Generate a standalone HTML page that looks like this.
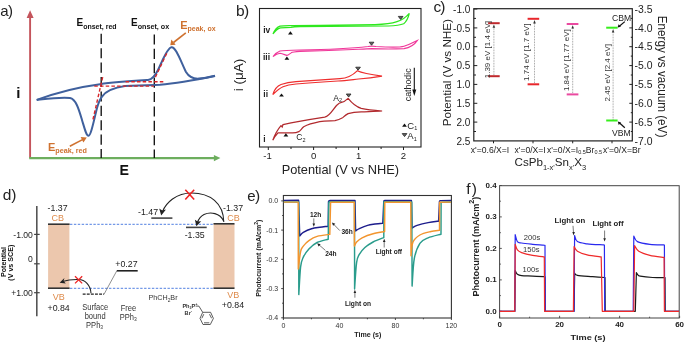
<!DOCTYPE html>
<html><head><meta charset="utf-8">
<style>
html,body{margin:0;padding:0;background:#fff;}
body{width:685px;height:344px;overflow:hidden;}
svg{display:block;filter:blur(0.3px);font-family:"Liberation Sans",sans-serif;}
</style></head>
<body>
<svg width="685" height="344" viewBox="0 0 685 344">
<rect width="685" height="344" fill="#fff"/>
<!-- ================= PANEL A ================= -->
<g id="pa">
<text x="0.2" y="16.1" font-size="15" fill="#222">a</text><text x="7.9" y="16.1" font-size="15" fill="#222">)</text>
<!-- axes -->
<line x1="30.1" y1="158" x2="30.1" y2="17" stroke="#c4545c" stroke-width="1.9"/>
<path d="M30.1 10.3 L26.6 18 L33.6 18 Z" fill="#c4545c"/>
<line x1="29.2" y1="158.1" x2="214" y2="158.1" stroke="#6dae5e" stroke-width="2.1"/>
<path d="M220.4 158.1 L213.9 154.9 L213.9 161.3 Z" fill="#6dae5e"/>
<text x="16.2" y="98" font-size="15" font-weight="bold" fill="#111">i</text>
<text x="119.6" y="174.9" font-size="14.2" font-weight="bold" fill="#111">E</text>
<!-- dashed verticals -->
<line x1="101.2" y1="33.8" x2="101.2" y2="158" stroke="#111" stroke-width="1.35" stroke-dasharray="10.1,4.3"/>
<line x1="154.3" y1="34.4" x2="154.3" y2="158" stroke="#111" stroke-width="1.35" stroke-dasharray="10.1,4.3"/>
<!-- labels -->
<text x="76.5" y="26.3" font-size="10" font-weight="bold" fill="#111">E<tspan font-size="7" dy="2.2">onset, red</tspan></text>
<text x="131" y="26.3" font-size="10" font-weight="bold" fill="#111">E<tspan font-size="7.2" dy="2.2">onset, ox</tspan></text>
<text x="180.2" y="29.2" font-size="11" font-weight="bold" fill="#cf7230">E<tspan font-size="7" dy="1.8">peak, ox</tspan></text>
<text x="48" y="150.7" font-size="11" font-weight="bold" fill="#cf7230">E<tspan font-size="7.2" dy="2">peak, red</tspan></text>
<!-- orange arrows -->
<line x1="185.8" y1="32.8" x2="173.5" y2="42.5" stroke="#cf7230" stroke-width="1.6"/>
<path d="M170.3 45.2 L171.3 39.6 L175.7 44.7 Z" fill="#cf7230"/>
<line x1="69.8" y1="146.3" x2="83" y2="139.4" stroke="#cf7230" stroke-width="1.6"/>
<path d="M86.8 137.4 L80.6 137.1 L83.4 142.6 Z" fill="#cf7230"/>
<!-- CV curve -->
<path d="M36.7 99.9 C 50 95, 75 87.5, 100 84.2 C 115 82, 140 80.5, 148 80 C 152 79.5, 155 76, 158 70 C 162 62, 167 48, 171.4 47.3 C 176 46.5, 181 62, 186 72 C 189 77, 193 79, 199 78.6 C 205 78.2, 210 77, 215 75.8" fill="none" stroke="#3f609d" stroke-width="2"/>
<path d="M36.7 99.9 C 45 99, 60 97, 70 98 C 76 99, 79 110, 82 120 C 85 130, 86.5 136, 88.5 135.8 C 91 135.5, 94 120, 97 108 C 99 101, 100.5 98.5, 102 96.6 C 106 91, 112 88, 125 86.1 C 140 85, 150 85, 160 84.8 C 180 83, 200 79, 215 76" fill="none" stroke="#3f609d" stroke-width="2"/>
<!-- red dashed tangents -->
<line x1="102.7" y1="77.1" x2="92.6" y2="121" stroke="#d8262a" stroke-width="1.4" stroke-dasharray="3.5,2.2"/>
<line x1="94.3" y1="86.1" x2="153.8" y2="86.1" stroke="#d8262a" stroke-width="1.4" stroke-dasharray="3.5,2.2"/>
<line x1="125.6" y1="81.8" x2="164.2" y2="81.8" stroke="#d8262a" stroke-width="1.4" stroke-dasharray="3.5,2.2"/>
<line x1="166.7" y1="53.4" x2="154.5" y2="79" stroke="#d8262a" stroke-width="1.4" stroke-dasharray="3.5,2.2"/>
</g>
<!-- ================= PANEL B ================= -->
<g id="pb">
<text x="235.9" y="15.7" font-size="15.5" fill="#222">b</text><text x="243.9" y="15.7" font-size="15.5" fill="#222">)</text>
<rect x="259.5" y="8.5" width="161.5" height="138.5" fill="none" stroke="#222" stroke-width="1.1"/>
<!-- x ticks -->
<g stroke="#222" stroke-width="1">
<line x1="268.3" y1="147" x2="268.3" y2="150"/><line x1="291" y1="147" x2="291" y2="149"/>
<line x1="313.6" y1="147" x2="313.6" y2="150"/><line x1="336.1" y1="147" x2="336.1" y2="149"/>
<line x1="358.6" y1="147" x2="358.6" y2="150"/><line x1="381.1" y1="147" x2="381.1" y2="149"/>
<line x1="403.5" y1="147" x2="403.5" y2="150"/>
</g>
<g font-size="9.6" fill="#222" text-anchor="middle">
<text x="267.6" y="158.8">-1</text><text x="313.6" y="158.8">0</text><text x="358.6" y="158.8">1</text><text x="403.5" y="158.8">2</text>
</g>
<text x="340.3" y="174.1" font-size="12.8" fill="#222" text-anchor="middle">Potential (V vs NHE)</text>
<text transform="translate(243,75) rotate(-90)" font-size="13.5" fill="#222" text-anchor="middle">i (μA)</text>
<!-- curve labels -->
<g font-size="8.5" font-weight="bold" fill="#222">
<text x="263.2" y="33.3">iv</text><text x="263" y="59.5">iii</text><text x="263.3" y="96.6">ii</text><text x="263.3" y="141.5">i</text>
</g>
<!-- iv green -->
<g fill="none" stroke="#2ee81e" stroke-width="1.25">
<path d="M273 34 C 274.5 30.5, 276.5 27.4, 280 26.2 C 284 25.6, 288 25.7, 292 25.6 C 320 25.3, 355 25, 375 24.6 C 385 24.3, 392 23.3, 397 21.6 C 402 19.9, 406 17.3, 409.3 13.3 C 408.2 18, 406.3 21.5, 403.7 23.8 C 400 25.4, 395 25.8, 388 26 C 360 26.4, 330 26.5, 300 26.7 C 295 26.8, 293 27, 291 27.4 C 287 27.6, 283 27.6, 280.5 27.8 C 277.5 28.5, 275 31, 273 34"/>
</g>
<!-- iii magenta -->
<g fill="none" stroke="#f0389a" stroke-width="1.15">
<path d="M273 56.6 C 275 54, 277 52, 280 51 C 283 50.4, 290 50.2, 300 50 C 330 49.5, 355 48, 368 46.5 C 371 45.8, 373 46, 376 46.5 C 390 47.4, 400 47.4, 404 46.3 C 410 44.6, 414 42, 417.4 40.4 C 415 44, 411 47.6, 404 48.6 C 390 49.4, 380 49, 372 48.6 C 360 49, 340 50.5, 300 51.4 C 295 51.8, 292.5 52, 291.5 52.6 C 289.5 54, 288 55.4, 286.9 55.4 C 285 55, 283 53.6, 280 53.3 C 277 53.5, 275 55, 273 56.6"/>
</g>
<!-- ii red -->
<g fill="none" stroke="#ee2e2e" stroke-width="1.2">
<path d="M272.8 94.6 C 274.5 89, 277 86, 281 84.5 C 286 82.8, 291 82, 296 81.6 C 310 80.6, 325 79.6, 340 78.6 C 346 78.2, 352 76, 357.2 70.8 C 362 73, 370 74.5, 382 76.2 C 375 77.5, 366 78.6, 358.5 79 C 350 80, 345 80.8, 338 81 C 322 82, 308 83, 296 84 C 290 84.6, 286 85.6, 283 86.8 C 279.5 88.3, 276.5 91, 272.8 94.6"/>
</g>
<!-- i dark red -->
<g fill="none" stroke="#b22a2e" stroke-width="1.25">
<path d="M272.8 140.3 C 275 134, 278.5 128.5, 281 125.6 L 282.2 127 L 283 124.6 C 295 122, 310 119.5, 324.7 117.2 C 330 116, 332.5 110, 336.5 105.5 C 338.5 103.5, 340 102.6, 341.5 102.4 C 343.5 102, 346 100.5, 348.1 98.4 C 351 102, 355 106.5, 361.2 108.4 C 368 110, 375 110.5, 382.1 111 C 375 111.5, 368 111.5, 361.2 111.8 C 356 112, 352 112.5, 348.1 113.6 C 345 115.3, 343.5 117, 342.5 117.8 C 340 119.3, 337 120.3, 335 120.7 C 330 121, 325 121, 319.7 121.7 C 312 123.3, 307 125, 303.7 126.7 C 301.5 128.5, 300.5 130.8, 298.8 131.6 C 297 132.5, 295 132.9, 292.6 132.9 L 278 132.9 C 276 135, 274 138, 272.8 140.3"/>
</g>
<!-- markers -->
<g fill="#111">
<path d="M290.4 31.2 L 288 34.4 L 292.8 34.4 Z"/>
<path d="M286.9 56.6 L 284.5 59.8 L 289.3 59.8 Z"/>
<path d="M281.5 93.4 L 279.1 96.6 L 283.9 96.6 Z"/>
<path d="M285.9 133.3 L 283.5 136.5 L 288.3 136.5 Z"/>
<path d="M404.5 123.6 L 402.1 126.8 L 406.9 126.8 Z"/>
</g>
<g fill="#666" stroke="#222" stroke-width="0.8">
<path d="M398.3 16.4 L 403 16.4 L 400.65 19.4 Z"/>
<path d="M369.2 42.2 L 373.9 42.2 L 371.55 45.2 Z"/>
<path d="M355.7 67.2 L 360.4 67.2 L 358.05 70.2 Z"/>
<path d="M346.3 94 L 351 94 L 348.65 97 Z"/>
<path d="M402.2 133.6 L 406.9 133.6 L 404.55 136.6 Z"/>
</g>
<g fill="#222">
<text x="333.3" y="100.5" font-size="8.5">A<tspan font-size="5.5" dy="1.8">2</tspan></text>
<text x="296.3" y="140.3" font-size="8.5">C<tspan font-size="5.5" dy="1.8">2</tspan></text>
<text x="407.3" y="128.6" font-size="9.5">C<tspan font-size="5.5" dy="1.8">1</tspan></text>
<text x="407.3" y="139.3" font-size="9.5">A<tspan font-size="5.5" dy="1.8">1</tspan></text>
<text transform="translate(410.6,84.8) rotate(-90)" font-size="8.8" text-anchor="middle">cathodic</text>
</g>
<line x1="414.3" y1="67.8" x2="414.3" y2="91" stroke="#111" stroke-width="1.1"/>
<path d="M414.3 96 L 412.3 89.5 L 416.3 89.5 Z" fill="#111"/>
</g>
<!-- ================= PANEL C ================= -->
<g id="pc">
<text x="433.4" y="11.9" font-size="15.5" fill="#222">c</text><text x="440.2" y="11.9" font-size="15.5" fill="#222">)</text>
<rect x="473.8" y="8.7" width="158.5" height="132.2" fill="none" stroke="#222" stroke-width="1.2"/>
<!-- left ticks -->
<g stroke="#222" stroke-width="1">
<line x1="473.8" y1="9" x2="477.3" y2="9"/><line x1="473.8" y1="18.4" x2="476" y2="18.4"/>
<line x1="473.8" y1="27.9" x2="477.3" y2="27.9"/><line x1="473.8" y1="37.3" x2="476" y2="37.3"/>
<line x1="473.8" y1="46.7" x2="477.3" y2="46.7"/><line x1="473.8" y1="56.1" x2="476" y2="56.1"/>
<line x1="473.8" y1="65.6" x2="477.3" y2="65.6"/><line x1="473.8" y1="75" x2="476" y2="75"/>
<line x1="473.8" y1="84.4" x2="477.3" y2="84.4"/><line x1="473.8" y1="93.8" x2="476" y2="93.8"/>
<line x1="473.8" y1="103.3" x2="477.3" y2="103.3"/><line x1="473.8" y1="112.7" x2="476" y2="112.7"/>
<line x1="473.8" y1="122.1" x2="477.3" y2="122.1"/><line x1="473.8" y1="131.5" x2="476" y2="131.5"/>
<!-- right ticks -->
<line x1="632.3" y1="18.4" x2="630.8" y2="18.4"/><line x1="632.3" y1="27.9" x2="629.3" y2="27.9"/>
<line x1="632.3" y1="37.3" x2="630.8" y2="37.3"/><line x1="632.3" y1="46.7" x2="629.3" y2="46.7"/>
<line x1="632.3" y1="56.1" x2="630.8" y2="56.1"/><line x1="632.3" y1="65.6" x2="629.3" y2="65.6"/>
<line x1="632.3" y1="75" x2="630.8" y2="75"/><line x1="632.3" y1="84.4" x2="629.3" y2="84.4"/>
<line x1="632.3" y1="93.8" x2="630.8" y2="93.8"/><line x1="632.3" y1="103.3" x2="629.3" y2="103.3"/>
<line x1="632.3" y1="112.7" x2="630.8" y2="112.7"/><line x1="632.3" y1="122.1" x2="629.3" y2="122.1"/>
<line x1="632.3" y1="131.5" x2="630.8" y2="131.5"/>
<!-- bottom ticks -->
<line x1="493.5" y1="140.9" x2="493.5" y2="143.3"/><line x1="533" y1="140.9" x2="533" y2="143.3"/>
<line x1="572.7" y1="140.9" x2="572.7" y2="143.3"/><line x1="612" y1="140.9" x2="612" y2="143.3"/>
</g>
<g font-size="10" fill="#222" text-anchor="end">
<text x="470.3" y="12.6">-1.0</text><text x="470.3" y="31.5">-0.5</text><text x="470.3" y="50.3">0.0</text>
<text x="470.3" y="69.2">0.5</text><text x="470.3" y="88">1.0</text><text x="470.3" y="106.9">1.5</text>
<text x="470.3" y="125.7">2.0</text><text x="470.3" y="144.5">2.5</text>
</g>
<g font-size="10.4" fill="#222">
<text x="634.6" y="12.6">-3.5</text><text x="634.6" y="31.5">-4.0</text><text x="634.6" y="50.3">-4.5</text>
<text x="634.6" y="69.2">-5.0</text><text x="634.6" y="88">-5.5</text><text x="634.6" y="106.9">-6.0</text>
<text x="634.6" y="125.7">-6.5</text><text x="634.6" y="144.5">-7.0</text>
</g>
<text transform="translate(451.4,72.6) rotate(-90)" font-size="11.7" fill="#222" text-anchor="middle">Potential (V vs NHE)</text>
<text transform="translate(657.9,76.5) rotate(90)" font-size="13.2" fill="#222" text-anchor="middle" textLength="121.6" lengthAdjust="spacingAndGlyphs">Energy vs vacuum (eV)</text>
<g font-size="8.6" fill="#222" text-anchor="middle">
<text x="490" y="152.6">x'=0.6/X=I</text>
<text x="530.1" y="152.6">x'=0/X=I</text>
<text x="574.5" y="152.6">x'=0/X=I<tspan font-size="5.5" dy="1.8">0.5</tspan><tspan dy="-1.8">Br</tspan><tspan font-size="5.5" dy="1.8">0.5</tspan></text>
<text x="621.8" y="152.6">x'=0/X=Br</text>
</g>
<text x="514.6" y="166.2" font-size="11.6" fill="#222">CsPb<tspan font-size="7.5" dy="3.5">1-x'</tspan><tspan dy="-3.5">Sn</tspan><tspan font-size="7.5" dy="3.5">x'</tspan><tspan dy="-3.5">X</tspan><tspan font-size="7.5" dy="3.5">3</tspan></text>
<!-- bars -->
<g stroke-width="2">
<line x1="488.1" y1="23.2" x2="499.7" y2="23.2" stroke="#c0282c"/>
<line x1="488.1" y1="76.2" x2="499.7" y2="76.2" stroke="#c0282c"/>
<line x1="527.6" y1="18.8" x2="539.2" y2="18.8" stroke="#e8262b"/>
<line x1="527.6" y1="84.3" x2="539.2" y2="84.3" stroke="#e8262b"/>
<line x1="566.7" y1="24" x2="578.4" y2="24" stroke="#ea4aa0"/>
<line x1="566.7" y1="94.4" x2="578.4" y2="94.4" stroke="#ea4aa0"/>
<line x1="606.2" y1="27.7" x2="617.6" y2="27.7" stroke="#36ee1c"/>
<line x1="606.2" y1="120.5" x2="617.6" y2="120.5" stroke="#36ee1c"/>
</g>
<g stroke="#555" stroke-width="0.6" stroke-dasharray="0.8,0.8">
<line x1="493.9" y1="75" x2="493.9" y2="27"/>
<line x1="534.5" y1="83" x2="534.5" y2="22.5"/>
<line x1="572.7" y1="93" x2="572.7" y2="27.5"/>
<line x1="613.1" y1="119.5" x2="613.1" y2="31.5"/>
</g>
<g fill="#333">
<path d="M493.9 24.4 L492.6 27.8 L495.2 27.8 Z"/>
<path d="M534.5 20 L533.2 23.4 L535.8 23.4 Z"/>
<path d="M572.7 25.2 L571.4 28.6 L574 28.6 Z"/>
<path d="M613.1 29 L611.8 32.4 L614.4 32.4 Z"/>
</g>
<g font-size="8" fill="#333">
<text transform="translate(489.6,49.6) rotate(-90)" text-anchor="middle">1.39 eV [1.4 eV]</text>
<text transform="translate(529.2,52.3) rotate(-90)" text-anchor="middle">1.74 eV [1.7 eV]</text>
<text transform="translate(569,60.2) rotate(-90)" text-anchor="middle">1.84 eV [1.77 eV]</text>
<text transform="translate(610.3,72.7) rotate(-90)" text-anchor="middle">2.45 eV [2.4 eV]</text>
</g>
<text x="612" y="20.6" font-size="8.6" fill="#222">CBM</text>
<text x="612" y="136" font-size="8.6" fill="#222">VBM</text>
<line x1="624.8" y1="21.6" x2="619.6" y2="26" stroke="#111" stroke-width="1.2"/>
<path d="M617.6 27.4 L618.6 24.3 L620.9 26.8 Z" fill="#111"/>
<line x1="624.8" y1="127.7" x2="619.6" y2="123" stroke="#111" stroke-width="1.2"/>
<path d="M617.8 121.5 L621 122.6 L618.7 125 Z" fill="#111"/>
</g>
<!-- ================= PANEL D ================= -->
<g id="pd">
<text x="2.8" y="200.1" font-size="15.5" fill="#222">d</text><text x="11.3" y="200.1" font-size="15.5" fill="#222">)</text>
<line x1="36.8" y1="205.9" x2="36.8" y2="316.3" stroke="#555" stroke-width="1.6"/>
<g stroke="#444" stroke-width="1.2">
<line x1="34.1" y1="234.4" x2="39.7" y2="234.4"/><line x1="34.1" y1="263.8" x2="39.7" y2="263.8"/><line x1="34.1" y1="292.7" x2="39.7" y2="292.7"/>
</g>
<g font-size="8.6" fill="#222" text-anchor="end">
<text x="32.9" y="237.6">-1.00</text><text x="32.9" y="262.1">0</text><text x="32.9" y="295.9">+1.00</text>
</g>
<g font-size="7" font-weight="bold" fill="#111" text-anchor="middle">
<text transform="translate(5.9,262) rotate(-90)" textLength="30" lengthAdjust="spacingAndGlyphs">Potential</text>
<text transform="translate(12.8,262.7) rotate(-90)" textLength="36" lengthAdjust="spacingAndGlyphs">(V vs SCE)</text>
</g>
<!-- boxes -->
<rect x="48.1" y="224.2" width="21.3" height="64" fill="#ecc7ad"/>
<rect x="213.6" y="223.8" width="20.9" height="64.5" fill="#ecc7ad"/>
<g stroke="#333" stroke-width="1.6">
<line x1="48" y1="224.2" x2="69.6" y2="224.2"/><line x1="48" y1="288.2" x2="69.6" y2="288.2"/>
<line x1="213.5" y1="223.8" x2="234.5" y2="223.8"/><line x1="213.5" y1="288.2" x2="234.5" y2="288.2"/>
<line x1="151.3" y1="218.1" x2="172.4" y2="218.1" stroke="#444"/>
<line x1="186" y1="227.4" x2="206.7" y2="227.4" stroke="#444"/>
<line x1="116.8" y1="270.8" x2="137.7" y2="270.8" stroke="#222"/>
</g>
<g stroke="#3d72de" stroke-width="0.9" stroke-dasharray="2.4,1.5">
<line x1="70" y1="224.3" x2="213.5" y2="224.3"/>
<line x1="70" y1="288.3" x2="213.5" y2="288.3"/>
</g>
<line x1="82.7" y1="294.1" x2="104.1" y2="294.1" stroke="#222" stroke-width="1.3" stroke-dasharray="2.9,1.2"/>
<line x1="104.1" y1="294.1" x2="116.8" y2="270.8" stroke="#444" stroke-width="0.6"/>
<g font-size="8.8" fill="#222">
<text x="47.6" y="210.8">-1.37</text>
<text x="223" y="210.6">-1.37</text>
<text x="138" y="214.5">-1.47</text>
<text x="184.7" y="237.7">-1.35</text>
<text x="115.3" y="267">+0.27</text>
<text x="47.5" y="310.7">+0.84</text>
<text x="221.8" y="308.1">+0.84</text>
</g>
<g font-size="9" fill="#de8a4a">
<text x="51.6" y="221.4">CB</text><text x="227.2" y="221.2">CB</text>
<text x="52.8" y="300.3">VB</text><text x="227.3" y="297.7">VB</text>
</g>
<g font-size="7.6" fill="#333" text-anchor="middle">
<text transform="translate(95.2,310.4) scale(0.92,1)" font-size="8.2">Surface</text><text transform="translate(95.1,319.1) scale(0.92,1)" font-size="8.2">bound</text><text transform="translate(94.6,327.6) scale(0.92,1)" font-size="8.2">PPh<tspan font-size="5.4" dy="1.5">3</tspan></text>
<text transform="translate(128.5,311) scale(0.92,1)" font-size="8.2">Free</text><text transform="translate(128.2,319.8) scale(0.92,1)" font-size="8.2">PPh<tspan font-size="5.4" dy="1.5">3</tspan></text>
<text transform="translate(163,300) scale(0.9,1)" font-size="8">PhCH<tspan font-size="5.4" dy="1.5">2</tspan><tspan dy="-1.5">Br</tspan></text>
</g>
<!-- arcs -->
<g fill="none" stroke="#222" stroke-width="1.1">
<path d="M223.8 222.1 C 223.5 203, 210 193, 191.6 193 C 176 193, 166 203, 162.6 211.5"/>
<path d="M223.6 221 C 220 213, 210.5 211.5, 204 214.5 C 200.5 216.3, 198.5 219.5, 197.4 222.5"/>
<path d="M91 293.2 C 90.5 285, 85 279.5, 78.6 279.5 C 72 279.3, 66.5 280.2, 62.5 281.5"/>
</g>
<g fill="#222">
<path d="M161.2 215.4 L 159.2 208.4 L 162.3 210.4 L 166 209.6 Z"/>
<path d="M196.4 226.2 L 194.9 219.8 L 197.6 221.4 L 201.2 221.2 Z"/>
<path d="M59.6 282.7 L 64.4 277.9 L 63.6 281 L 65.8 283.6 Z"/>
</g>
<g stroke="#ee2525" stroke-width="1.3" fill="none">
<path d="M185.3 189.7 L 194.2 199.5 M 194.2 189.7 L 185.3 199.5" stroke-width="1.6"/>
<path d="M75 276.3 L 82.2 283.4 M 82.2 276.3 L 75 283.4"/>
</g>
<!-- structure -->
<g fill="#333" font-weight="bold">
<text x="182.4" y="308.3" font-size="5.6">Ph<tspan font-size="3.6" dy="1">3</tspan><tspan dy="-1">P</tspan><tspan font-size="4" dy="-3">+</tspan></text>
<text x="184.6" y="315.2" font-size="5.6">Br<tspan font-size="4" dy="-3">-</tspan></text>
</g>
<g fill="none" stroke="#333" stroke-width="0.8">
<path d="M195.6 306.1 L 198.9 306.1 L 202.7 312.3"/>
<path d="M202.7 312.3 L 210.6 312.3 L 213.4 318.4 L 210.3 324.5 L 203 324.5 L 200 318.4 Z"/>
<path d="M203.8 314.2 L 201.8 318.3 M 209.5 314.2 L 211.6 318.3 M 204 322.8 L 209.3 322.8"/>
</g>
</g>
<!-- ================= PANEL E ================= -->
<g id="pe">
<text x="247.3" y="200.9" font-size="15" fill="#222">e</text><text x="254.9" y="200.9" font-size="15.5" fill="#222">)</text>
<rect x="283.4" y="195.5" width="168" height="122.5" fill="none" stroke="#333" stroke-width="1.1"/>
<g stroke="#333" stroke-width="0.9"><line x1="281.2" y1="200.9" x2="283.4" y2="200.9"/><line x1="282.1" y1="215.5" x2="283.4" y2="215.5"/><line x1="281.2" y1="230.1" x2="283.4" y2="230.1"/><line x1="282.1" y1="244.7" x2="283.4" y2="244.7"/><line x1="281.2" y1="259.3" x2="283.4" y2="259.3"/><line x1="282.1" y1="273.9" x2="283.4" y2="273.9"/><line x1="281.2" y1="288.6" x2="283.4" y2="288.6"/><line x1="282.1" y1="303.2" x2="283.4" y2="303.2"/><line x1="281.2" y1="317.8" x2="283.4" y2="317.8"/><line x1="283.4" y1="318" x2="283.4" y2="320.0"/><line x1="311.4" y1="318" x2="311.4" y2="319.3"/><line x1="339.4" y1="318" x2="339.4" y2="320.0"/><line x1="367.4" y1="318" x2="367.4" y2="319.3"/><line x1="395.4" y1="318" x2="395.4" y2="320.0"/><line x1="423.4" y1="318" x2="423.4" y2="319.3"/><line x1="451.4" y1="318" x2="451.4" y2="320.0"/></g>
<g font-size="7" fill="#333" text-anchor="end"><text x="278.2" y="203.4">0.0</text><text x="278.2" y="232.6">-0.1</text><text x="278.2" y="261.8">-0.2</text><text x="278.2" y="291.1">-0.3</text><text x="278.2" y="320.3">-0.4</text></g>
<g font-size="7" fill="#333" text-anchor="middle"><text x="283.4" y="328">0</text><text x="339.4" y="328">40</text><text x="395.4" y="328">80</text><text x="451.4" y="328">120</text></g>
<text x="367.8" y="337.2" font-size="7.1" font-weight="bold" fill="#222" text-anchor="middle">Time (s)</text>
<text transform="translate(260.8,258.2) rotate(-90)" font-size="7.05" font-weight="bold" fill="#222" text-anchor="middle">Photocurrent (mA/cm<tspan font-size="5" dy="-2.5">2</tspan><tspan dy="2.5">)</tspan></text>
<g fill="none" stroke-width="1.45" stroke-linejoin="round"><path d="M 283.8 200.4 L 298.6 200.3 L 299.7 235.9 C 300.3 235.3, 301.3 233.5, 303.3 232.3 C 305.3 231.1, 308.8 229.5, 311.6 228.7 C 314.4 227.9, 317.1 227.7, 319.9 227.3 C 322.7 226.9, 326.8 226.4, 328.2 226.2 L 328.5 201.6 Q 328.7 200.5 330 200.5 L 355 200.4 L 355.6 230.9 C 356.2 230.5, 357.3 229.6, 359.3 228.7 C 361.3 227.8, 365.0 226.2, 367.6 225.4 C 370.2 224.6, 372.5 224.4, 375.0 224.0 C 377.5 223.6, 381.5 223.3, 382.8 223.2 L 383.8 201.3 Q 384 200.5 385 200.5 L 411.4 200.4 L 412 228.1 C 412.9 227.7, 414.4 226.3, 417.1 225.4 C 419.8 224.5, 424.5 223.3, 428.1 222.6 C 431.7 221.9, 436.9 221.4, 438.6 221.2 L 439.5 201.3 Q 439.7 200.6 440.5 200.6 L 451 200.5" stroke="#1d1d8c"/><path d="M 283.8 202 L 298.7 202 L 298.8 294.6 C 299.1 290.0, 299.9 273.1, 300.6 266.8 C 301.4 260.6, 301.9 260.1, 303.3 257.1 C 304.7 254.1, 306.6 251.3, 308.9 248.9 C 311.2 246.5, 313.9 244.1, 317.1 242.5 C 320.3 240.9, 326.4 239.8, 328.2 239.2 L 328.8 202.6 Q 329 201.8 330 201.8 L 354.5 202 L 354.6 288.9 C 354.9 284.5, 355.8 268.4, 356.6 262.7 C 357.4 256.9, 357.9 256.9, 359.3 254.4 C 360.7 251.9, 362.6 249.6, 364.9 247.5 C 367.2 245.4, 370.0 243.7, 373.1 242.0 C 376.2 240.3, 382.0 238.3, 383.8 237.6 L 383.9 201.8 L 411.8 202 L 412.1 286.1 C 412.5 281.5, 413.0 265.6, 414.3 258.5 C 415.6 251.4, 417.6 246.8, 419.9 243.3 C 422.2 239.9, 424.6 239.3, 428.1 237.8 C 431.6 236.3, 438.9 234.8, 441.0 234.2 L 441.1 202.2 L 451 202" stroke="#2a9c8c"/><path d="M 283.8 202.1 L 298.2 202.1 L 298.3 269 C 298.7 266.1, 299.8 255.4, 300.6 251.6 C 301.4 247.8, 301.9 247.9, 303.3 246.1 C 304.7 244.3, 306.6 242.2, 308.9 240.6 C 311.2 239.0, 313.6 237.4, 317.1 236.4 C 320.6 235.4, 327.7 234.7, 329.8 234.4 L 330.6 202.3 L 354.3 202.3 L 354.4 246.1 C 354.8 245.4, 355.3 243.4, 356.6 242.0 C 357.9 240.6, 359.4 239.2, 362.1 237.8 C 364.9 236.4, 369.4 234.7, 373.1 233.7 C 376.9 232.7, 382.7 231.9, 384.6 231.6 L 384.8 202.3 L 410.8 202.3 L 411 255.8 C 411.3 253.5, 411.5 245.5, 413.0 242.0 C 414.5 238.5, 416.9 236.8, 419.9 235.0 C 422.9 233.2, 427.6 232.3, 430.9 231.5 C 434.2 230.7, 438.1 230.6, 439.5 230.4 L 439.6 202.3 L 451 202.1" stroke="#f2952f"/></g>
<g font-size="6.6" font-weight="bold" fill="#222"><text x="309.9" y="217">12h</text><text x="341.4" y="233.6">36h</text><text x="325.2" y="256.4">24h</text><text x="345" y="306">Light on</text><text x="375.7" y="254.3">Light off</text></g>
<g stroke="#222" stroke-width="0.6" fill="none"><line x1="313.8" y1="218.4" x2="313.8" y2="224.5"/><line x1="339.8" y1="230.6" x2="333.6" y2="224.2"/><line x1="325.4" y1="250.4" x2="319" y2="244.8"/><line x1="354.9" y1="297.7" x2="354.9" y2="292"/><line x1="384.2" y1="247.5" x2="384.2" y2="241"/></g>
<g fill="#222"><path d="M313.8 226.8 L312.5 223.6 L315.1 223.6 Z"/><path d="M331.9 222.4 L335.3 223.7 L333.1 225.8 Z"/><path d="M317.2 243.2 L320.6 244.2 L318.6 246.4 Z"/><path d="M354.9 289.8 L353.6 293 L356.2 293 Z"/><path d="M384.2 238.8 L382.9 242 L385.5 242 Z"/></g>
</g>
<!-- ================= PANEL F ================= -->
<g id="pf">
<text x="466.3" y="194.3" font-size="15.5" fill="#222">f</text><text x="471.7" y="194.3" font-size="15.5" fill="#222">)</text>
<rect x="499.6" y="185.7" width="179.6" height="132.3" fill="none" stroke="#444" stroke-width="1"/>
<g stroke="#444" stroke-width="0.9"><line x1="499.6" y1="311.3" x2="501.8" y2="311.3"/><line x1="499.6" y1="295.6" x2="500.9" y2="295.6"/><line x1="499.6" y1="279.9" x2="501.8" y2="279.9"/><line x1="499.6" y1="264.1" x2="500.9" y2="264.1"/><line x1="499.6" y1="248.4" x2="501.8" y2="248.4"/><line x1="499.6" y1="232.7" x2="500.9" y2="232.7"/><line x1="499.6" y1="216.9" x2="501.8" y2="216.9"/><line x1="499.6" y1="201.2" x2="500.9" y2="201.2"/><line x1="499.6" y1="185.5" x2="501.8" y2="185.5"/><line x1="499.6" y1="318" x2="499.6" y2="315.8"/><line x1="529.6" y1="318" x2="529.6" y2="316.7"/><line x1="559.6" y1="318" x2="559.6" y2="315.8"/><line x1="589.6" y1="318" x2="589.6" y2="316.7"/><line x1="619.6" y1="318" x2="619.6" y2="315.8"/><line x1="649.6" y1="318" x2="649.6" y2="316.7"/><line x1="679.6" y1="318" x2="679.6" y2="315.8"/></g>
<g font-size="8" font-weight="bold" fill="#222" text-anchor="end"><text transform="translate(496.6,313.7) scale(1,0.82)">0.0</text><text transform="translate(496.6,282.2) scale(1,0.82)">0.1</text><text transform="translate(496.6,250.8) scale(1,0.82)">0.2</text><text transform="translate(496.6,219.4) scale(1,0.82)">0.3</text><text transform="translate(496.6,187.9) scale(1,0.82)">0.4</text></g>
<g font-size="8" font-weight="bold" fill="#222" text-anchor="middle"><text transform="translate(499.6,327.2) scale(1,0.82)">0</text><text transform="translate(559.6,327.2) scale(1,0.82)">20</text><text transform="translate(619.6,327.2) scale(1,0.82)">40</text><text transform="translate(679.6,327.2) scale(1,0.82)">60</text></g>
<text transform="translate(588,339.9) scale(1,0.82)" font-size="9.2" font-weight="bold" fill="#222" text-anchor="middle">Time (s)</text>
<text transform="translate(478.6,246.6) rotate(-90)" font-size="9.1" font-weight="bold" fill="#222" text-anchor="middle">Photocurrent (mA/cm<tspan font-size="7.2" dy="-4.2">2</tspan><tspan dy="4.2">)</tspan></text>
<g fill="none" stroke-width="1.2" stroke-linejoin="round"><path d="M 499.6 311.3 L 514.8 311.3 L 515.2 270.6 C 515.6 271.2, 516.3 273.4, 517.4 274.2 C 518.5 275.0, 519.1 275.3, 521.6 275.6 C 524.1 275.9, 528.9 275.9, 532.6 276.1 C 536.3 276.3, 541.9 276.6, 543.7 276.7 L 545 276.8 L 545.2 311.3 L 574 311.3 L 574.7 273.3 C 575.2 273.6, 574.4 274.7, 577.4 275.3 C 580.4 275.9, 588.0 276.3, 592.6 276.7 C 597.2 277.1, 602.9 277.4, 605.0 277.5 L 605.2 311.3 L 635.3 311.3 L 636.4 272.5 C 636.6 272.8, 637.0 273.9, 637.6 274.5 C 638.2 275.1, 637.7 275.6, 640.2 276.1 C 642.7 276.6, 648.7 277.3, 652.6 277.5 C 656.5 277.7, 662.0 277.5, 663.9 277.5 L 665 277.6 L 665.2 311.3 L 679 311.3" stroke="#1a1a1a"/><path d="M 499.6 311.3 L 514.8 311.3 L 515.2 234.7 C 515.6 235.8, 516.3 240.2, 517.4 241.6 C 518.5 243.0, 519.1 242.6, 521.6 243.0 C 524.1 243.4, 528.9 243.9, 532.6 244.3 C 536.3 244.7, 541.9 245.0, 543.7 245.2 L 545 245.3 L 545.2 311.3 L 574 311.3 L 574.6 235.5 C 575.1 236.5, 575.3 240.2, 577.4 241.6 C 579.5 243.0, 582.7 243.2, 587.1 243.8 C 591.5 244.4, 600.9 244.7, 603.7 244.9 L 604.4 245 L 604.7 311.3 L 633.2 311.3 L 633.8 236 C 634.4 236.9, 634.7 240.2, 637.4 241.6 C 640.1 243.0, 645.5 243.8, 649.9 244.3 C 654.3 244.9, 661.4 244.8, 663.7 244.9 L 664.4 245 L 664.7 311.3 L 679 311.3" stroke="#2a2aee"/><path d="M 499.6 311.3 L 514.8 311.3 L 515.2 244.3 C 515.6 245.2, 516.3 248.5, 517.4 249.9 C 518.5 251.3, 519.1 251.7, 521.6 252.6 C 524.1 253.5, 528.9 254.7, 532.6 255.4 C 536.3 256.1, 541.9 256.6, 543.7 256.8 L 544.3 256.9 L 544.6 311.3 L 573.4 311.3 L 574.1 246.5 C 574.6 247.3, 575.2 249.8, 577.4 251.2 C 579.6 252.6, 583.2 253.9, 587.1 254.8 C 591.0 255.7, 598.6 256.5, 600.9 256.8 L 601.2 256.9 L 602.3 311.3 L 633.8 311.3 L 634.6 245.7 C 635.3 246.6, 636.2 249.7, 638.8 251.3 C 641.3 252.9, 645.8 254.4, 649.9 255.4 C 654.0 256.4, 661.4 257.0, 663.7 257.3 L 664.1 257.4 L 664.4 311.3 L 679 311.3" stroke="#ee2a2a"/></g>
<g font-size="7.6" fill="#333"><text x="523.8" y="240.3">200s</text><text x="523" y="252.2">150s</text><text x="522.5" y="272.1">100s</text></g>
<g font-size="7.8" font-weight="bold" fill="#222"><text transform="translate(554.6,223.2) scale(1,0.86)">Light on</text><text transform="translate(592.4,226.2) scale(1,0.86)">Light off</text></g>
<g stroke="#222" stroke-width="0.6"><line x1="573" y1="225.8" x2="573.5" y2="232.5"/><line x1="604.6" y1="230.5" x2="604.6" y2="238.8"/></g>
<g fill="#222"><path d="M573.6 235.4 L572.3 232 L574.9 232 Z"/><path d="M604.6 241.6 L603.3 238.2 L605.9 238.2 Z"/></g>
</g>
</svg>
</body></html>
